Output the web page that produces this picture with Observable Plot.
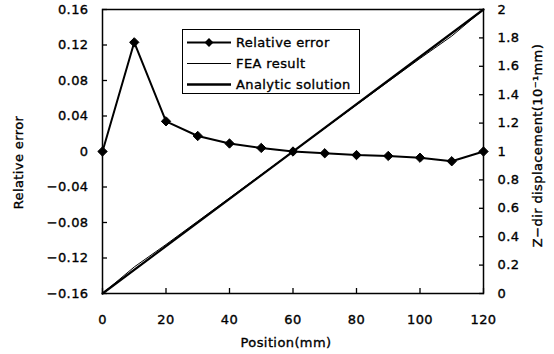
<!DOCTYPE html>
<html>
<head>
<meta charset="utf-8">
<script src="https://cdn.jsdelivr.net/npm/d3@7"></script>
<script src="https://cdn.jsdelivr.net/npm/@observablehq/plot@0.6"></script>
<style>
  body { margin: 0; background: #fff; }
  #wrap { position: relative; width: 554px; height: 354px; font-family: "DejaVu Sans", sans-serif; font-size: 13px; letter-spacing: 0.4px; color: #000; }
  #wrap svg text { stroke: #000; stroke-width: 0.35px; }
  .legend { position: absolute; left: 182px; top: 29px; width: 178px; height: 65px; border: 1.5px solid #000; background: #fff; box-sizing: border-box; }
  .row { position: absolute; left: 4px; height: 21px; display: flex; align-items: center; white-space: nowrap; -webkit-text-stroke: 0.35px #000; }
  .row svg { display: block; margin-right: 5px; }
</style>
</head>
<body>
<div id="wrap"></div>
<script>
// ---- data ----
const positions = [0, 10, 20, 30, 40, 50, 60, 70, 80, 90, 100, 110, 120];
const relativeError = [0, 0.123, 0.034, 0.0175, 0.009, 0.004, 0, -0.002, -0.004, -0.005, -0.007, -0.011, 0];
const feaDisplacement = [0, 0.187, 0.345, 0.509, 0.673, 0.837, 1.0, 1.164, 1.328, 1.492, 1.655, 1.813, 2.0];
const analyticPositions = [0, 120];
const analyticDisplacement = [0, 2];
const xTicks = [0, 20, 40, 60, 80, 100, 120];
const leftTicks = [-0.16, -0.12, -0.08, -0.04, 0, 0.04, 0.08, 0.12, 0.16];
const rightTicks = [0, 0.2, 0.4, 0.6, 0.8, 1, 1.2, 1.4, 1.6, 1.8, 2];
const legendLabels = ["Relative error", "FEA result", "Analytic solution"];
const xTitle = "Position(mm)";
const leftTitle = "Relative error";
const rightTitle = "Z\u2212dir displacement(10\u207B\u00B9mm)";

// secondary axis mapping: displacement [0,2] -> relative error scale [-0.16,0.16]
const dispToY = v => -0.16 + v * 0.16;
const yToDisp = y => (y + 0.16) / 0.16;

const errData = positions.map((x, i) => ({x, y: relativeError[i]}));
const feaData = positions.map((x, i) => ({x, y: dispToY(feaDisplacement[i])}));
const anaData = analyticPositions.map((x, i) => ({x, y: dispToY(analyticDisplacement[i])}));

const fmtLeft = d => Math.abs(d) < 1e-9 ? "0" : d.toFixed(2).replace("-", "\u2212");
const fmtRight = d => { const v = +yToDisp(d).toFixed(1); return String(v); };

const chart = Plot.plot({
  width: 554,
  height: 354,
  marginLeft: 102,
  marginRight: 71,
  marginTop: 9,
  marginBottom: 61,
  style: {fontFamily: "'DejaVu Sans', sans-serif", fontSize: "13px", background: "#fff", color: "#000", overflow: "visible"},
  x: {domain: [0, 120]},
  y: {domain: [-0.16, 0.16]},
  marks: [
    Plot.line(anaData, {x: "x", y: "y", stroke: "#000", strokeWidth: 2.2}),
    Plot.line(feaData, {x: "x", y: "y", stroke: "#000", strokeWidth: 1}),
    Plot.line(errData, {x: "x", y: "y", stroke: "#000", strokeWidth: 2}),
    Plot.dot(errData, {x: "x", y: "y", symbol: "diamond2", r: 4.2, fill: "#000", stroke: "#000", strokeWidth: 1}),
    Plot.frame({stroke: "#000", strokeWidth: 1.5}),
    Plot.axisX(xTicks, {anchor: "bottom", tickSize: -5, tickPadding: 26, tickFormat: d => String(d), label: null, strokeWidth: 1.3}),
    Plot.axisY(leftTicks, {anchor: "left", tickSize: -5, tickPadding: 19, tickFormat: fmtLeft, label: null, strokeWidth: 1.3}),
    Plot.axisY(rightTicks.map(dispToY), {anchor: "right", tickSize: -5, tickPadding: 19, tickFormat: fmtRight, label: null, strokeWidth: 1.3}),
    Plot.text([xTitle], {frameAnchor: "bottom", dx: -7, dy: 49, textAnchor: "middle", lineAnchor: "middle", text: d => d}),
    Plot.text([leftTitle], {frameAnchor: "left", dx: -84, dy: 11, rotate: -90, textAnchor: "middle", lineAnchor: "middle", text: d => d}),
    Plot.text([rightTitle], {frameAnchor: "right", dx: 54, dy: -6, rotate: -90, textAnchor: "middle", lineAnchor: "middle", text: d => d})
  ]
});

const wrap = document.getElementById("wrap");
wrap.appendChild(chart);

// legend overlay
const legend = d3.select(wrap).append("div").attr("class", "legend");
const styles = [
  {w: 2, marker: true},
  {w: 1, marker: false},
  {w: 2.4, marker: false}
];
legendLabels.forEach((label, i) => {
  const row = legend.append("div").attr("class", "row").style("top", (2 + i * 21) + "px");
  const svg = row.append("svg").attr("width", 44).attr("height", 21);
  svg.append("line").attr("x1", 0).attr("x2", 44).attr("y1", 10.5).attr("y2", 10.5)
    .attr("stroke", "#000").attr("stroke-width", styles[i].w);
  if (styles[i].marker) {
    svg.append("path").attr("transform", "translate(22,10.5)")
      .attr("d", d3.symbol(d3.symbolDiamond2, 50)()).attr("fill", "#000");
  }
  row.append("span").text(label);
});
</script>
</body>
</html>
